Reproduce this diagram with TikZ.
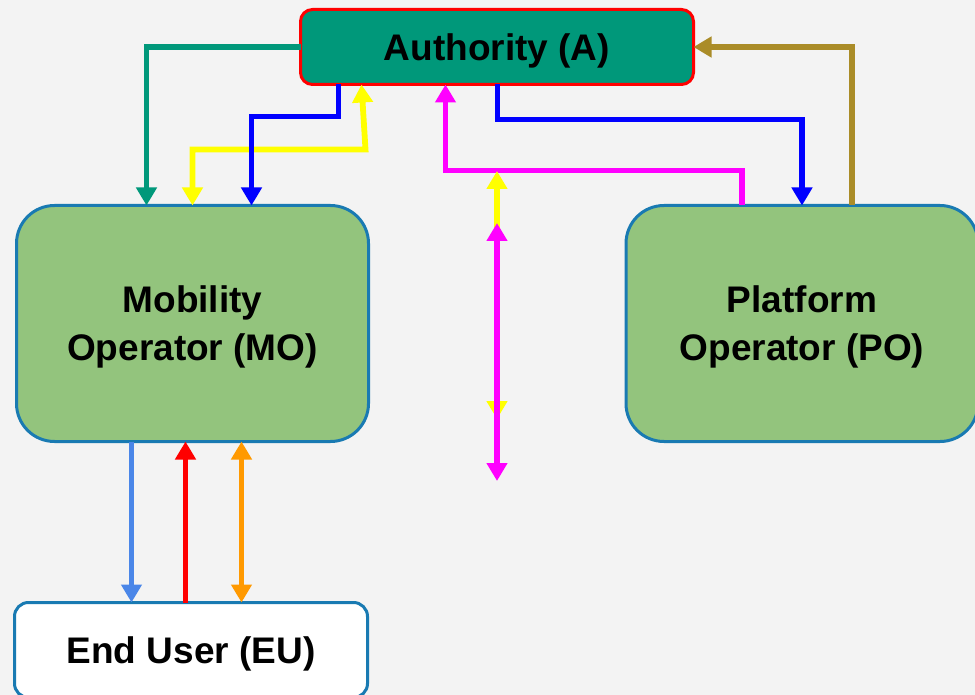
\documentclass[tikz,border=0pt]{standalone}
\usepackage{fontspec}
\setmainfont{Liberation Sans}
\usetikzlibrary{arrows.meta,calc}
\definecolor{bg}{RGB}{243,243,243}
\definecolor{tealA}{RGB}{0,152,122}
\definecolor{boxgreen}{RGB}{147,196,125}
\definecolor{boxblue}{RGB}{25,122,178}
\definecolor{lblue}{RGB}{74,134,232}
\definecolor{goldc}{RGB}{170,140,40}
\definecolor{yel}{RGB}{255,255,0}
\definecolor{mag}{RGB}{255,0,255}
\definecolor{orng}{RGB}{255,153,0}
\definecolor{blu}{RGB}{0,0,255}
\definecolor{redc}{RGB}{255,0,0}
\begin{document}
\begin{tikzpicture}[x=1pt,y=-1pt,
  txt/.style={font=\bfseries\fontsize{37}{48}\selectfont, text=black, align=center, inner sep=0pt, outer sep=0pt, text depth=0pt},
  abox/.style={txt, draw=redc, fill=tealA, line width=3pt, rounded corners=12pt, minimum width=393pt, minimum height=75pt},
  gbox/.style={txt, draw=boxblue, fill=boxgreen, line width=3pt, rounded corners=38pt, minimum width=352pt, minimum height=236pt},
  wbox/.style={txt, draw=boxblue, fill=white, line width=3pt, rounded corners=14pt, minimum width=353pt, minimum height=95pt},
  conn/.style={line width=5.8pt},
  tip/.tip={Triangle[length=18pt,width=20pt]}
]
\clip (0,0) rectangle (975,695);
\fill[bg] (0,0) rectangle (975,695);

\node[abox] (A) at (497,47) {Authority (A)};
\node[gbox] (MO) at (192.5,323.5) {Mobility\\Operator (MO)};
\node[gbox] (PO) at (802,323.5) {Platform\\Operator (PO)};
\node[wbox] (EU) at (191,650) {End User (EU)};

% Authority <-> Mobility Operator
\draw[conn, tealA, -tip] (A.west) -| ($(MO.north west)+(130,0)$);
\draw[conn, yel, tip-tip] ($(MO.north west)+(176,0)$) -- ++(0,-56) -- ++(173,0) -- ($(A.south west)+(61,0)$);
\draw[conn, blu, -tip] ($(A.south west)+(38,0)$) -- ++(0,32) -| ($(MO.north west)+(235,0)$);

% Authority <-> Platform Operator
\draw[conn, blu, -tip] ($(A.south west)+(197,0)$) -- ++(0,35) -| (PO.north);
\draw[conn, mag, -tip] ($(PO.north west)+(116,0)$) -- ++(0,-35) -| ($(A.south west)+(145,0)$);
\draw[conn, goldc, -tip] ($(PO.north west)+(226,0)$) |- (A.east);

% central double arrows
\coordinate (y1) at (497,171);
\coordinate (y2) at (497,419);
\coordinate (m1) at (497,223);
\coordinate (m2) at (497,481);
\draw[conn, yel, tip-tip] (y1) -- (y2);
\draw[conn, mag, tip-tip] (m1) -- (m2);

% Mobility Operator <-> End User
\draw[conn, lblue, -tip] ($(MO.south west)+(115,0)$) -- ($(EU.north west)+(117,0)$);
\draw[conn, redc, -tip] ($(EU.north west)+(171,0)$) -- ($(MO.south west)+(169,0)$);
\draw[conn, orng, tip-tip] ($(EU.north west)+(227,0)$) -- ($(MO.south west)+(225,0)$);
\end{tikzpicture}
\end{document}
